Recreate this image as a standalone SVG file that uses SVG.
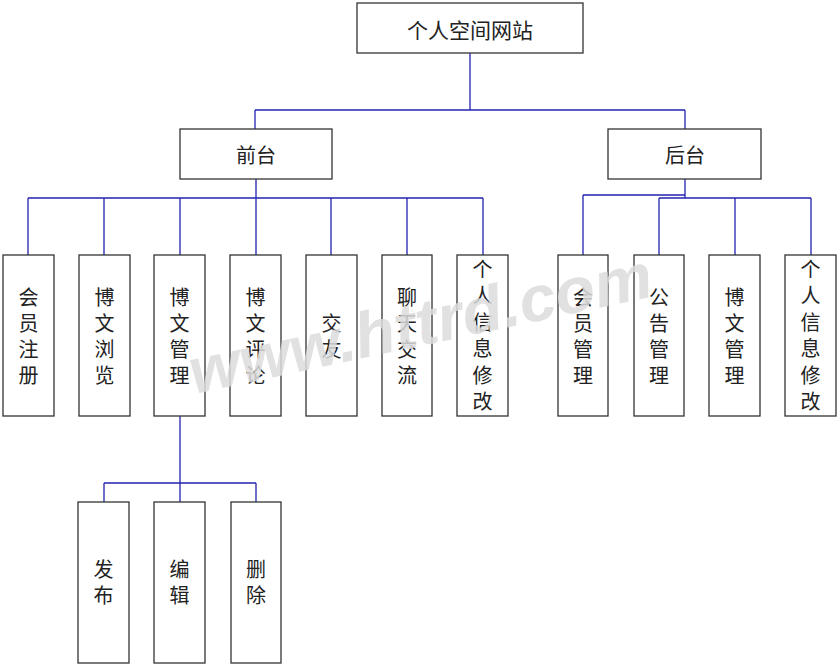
<svg xmlns="http://www.w3.org/2000/svg" width="840" height="668" viewBox="0 0 840 668">
<style>
.box{fill:#fff;stroke:#333;stroke-width:1.3}
.t{font-family:"Liberation Sans","Noto Sans CJK SC",sans-serif;font-size:20px;fill:#222;text-anchor:middle;dominant-baseline:central}
.c line{stroke:#2222b0;stroke-width:1.3}
.wm{font-family:"Liberation Sans",Arial,sans-serif;font-size:64px;font-weight:bold;font-style:italic;fill:#dcdcdc;opacity:0.85}
</style>
<rect width="840" height="668" fill="#fff"/>
<g class="c" id="connectors">
<line x1="470" y1="53" x2="470" y2="110"/>
<line x1="255" y1="110" x2="685" y2="110"/>
<line x1="255" y1="110" x2="255" y2="129"/>
<line x1="685" y1="110" x2="685" y2="129"/>
<line x1="256" y1="179" x2="256" y2="198"/>
<line x1="28" y1="198" x2="483" y2="198"/>
<line x1="28" y1="198" x2="28" y2="255"/>
<line x1="104" y1="198" x2="104" y2="255"/>
<line x1="180" y1="198" x2="180" y2="255"/>
<line x1="256" y1="198" x2="256" y2="255"/>
<line x1="331" y1="198" x2="331" y2="255"/>
<line x1="407" y1="198" x2="407" y2="255"/>
<line x1="483" y1="198" x2="483" y2="255"/>
<line x1="685" y1="179" x2="685" y2="198"/>
<line x1="583" y1="195" x2="685" y2="195"/>
<line x1="583" y1="195" x2="583" y2="255"/>
<line x1="659" y1="198" x2="811" y2="198"/>
<line x1="659" y1="198" x2="659" y2="255"/>
<line x1="735" y1="198" x2="735" y2="255"/>
<line x1="811" y1="198" x2="811" y2="255"/>
<line x1="180" y1="416" x2="180" y2="483"/>
<line x1="104" y1="483" x2="256" y2="483"/>
<line x1="104" y1="483" x2="104" y2="502"/>
<line x1="180" y1="483" x2="180" y2="502"/>
<line x1="256" y1="483" x2="256" y2="502"/>
</g>
<g id="root"><rect class="box" x="357" y="3" width="226" height="50"/><text class="t" x="470" y="30" style="font-size:21px">个人空间网站</text></g>
<g id="qiantai"><rect class="box" x="180" y="129" width="152" height="50"/><text class="t" x="256" y="156">前台</text></g>
<g id="houtai"><rect class="box" x="608" y="129" width="153" height="50"/><text class="t" x="685" y="156">后台</text></g>
<g id="n1"><rect class="box" x="3" y="255" width="51" height="161"/><text class="t"><tspan x="28.5" y="298">会</tspan><tspan x="28.5" y="324">员</tspan><tspan x="28.5" y="350">注</tspan><tspan x="28.5" y="376">册</tspan></text></g>
<g id="n2"><rect class="box" x="79" y="255" width="51" height="161"/><text class="t"><tspan x="104.5" y="298">博</tspan><tspan x="104.5" y="324">文</tspan><tspan x="104.5" y="350">浏</tspan><tspan x="104.5" y="376">览</tspan></text></g>
<g id="n3"><rect class="box" x="154" y="255" width="51" height="161"/><text class="t"><tspan x="179.5" y="298">博</tspan><tspan x="179.5" y="324">文</tspan><tspan x="179.5" y="350">管</tspan><tspan x="179.5" y="376">理</tspan></text></g>
<g id="n4"><rect class="box" x="230" y="255" width="51" height="161"/><text class="t"><tspan x="255.5" y="298">博</tspan><tspan x="255.5" y="324">文</tspan><tspan x="255.5" y="350">评</tspan><tspan x="255.5" y="376">论</tspan></text></g>
<g id="n5"><rect class="box" x="306" y="255" width="51" height="161"/><text class="t"><tspan x="331.5" y="324">交</tspan><tspan x="331.5" y="350">友</tspan></text></g>
<g id="n6"><rect class="box" x="382" y="255" width="50" height="161"/><text class="t"><tspan x="407" y="298">聊</tspan><tspan x="407" y="324">天</tspan><tspan x="407" y="350">交</tspan><tspan x="407" y="376">流</tspan></text></g>
<g id="n7"><rect class="box" x="457" y="255" width="51" height="161"/><text class="t"><tspan x="482.5" y="270">个</tspan><tspan x="482.5" y="296">人</tspan><tspan x="482.5" y="323">信</tspan><tspan x="482.5" y="349">息</tspan><tspan x="482.5" y="376">修</tspan><tspan x="482.5" y="402">改</tspan></text></g>
<g id="m1"><rect class="box" x="558" y="255" width="50" height="161"/><text class="t"><tspan x="583" y="298">会</tspan><tspan x="583" y="324">员</tspan><tspan x="583" y="350">管</tspan><tspan x="583" y="376">理</tspan></text></g>
<g id="m2"><rect class="box" x="634" y="255" width="50" height="161"/><text class="t"><tspan x="659" y="298">公</tspan><tspan x="659" y="324">告</tspan><tspan x="659" y="350">管</tspan><tspan x="659" y="376">理</tspan></text></g>
<g id="m3"><rect class="box" x="709" y="255" width="51" height="161"/><text class="t"><tspan x="734.5" y="298">博</tspan><tspan x="734.5" y="324">文</tspan><tspan x="734.5" y="350">管</tspan><tspan x="734.5" y="376">理</tspan></text></g>
<g id="m4"><rect class="box" x="785" y="255" width="51" height="161"/><text class="t"><tspan x="810.5" y="270">个</tspan><tspan x="810.5" y="296">人</tspan><tspan x="810.5" y="323">信</tspan><tspan x="810.5" y="349">息</tspan><tspan x="810.5" y="376">修</tspan><tspan x="810.5" y="402">改</tspan></text></g>
<g id="s1"><rect class="box" x="78" y="502" width="51" height="161"/><text class="t"><tspan x="103.5" y="570">发</tspan><tspan x="103.5" y="596">布</tspan></text></g>
<g id="s2"><rect class="box" x="154" y="502" width="51" height="161"/><text class="t"><tspan x="179.5" y="570">编</tspan><tspan x="179.5" y="596">辑</tspan></text></g>
<g id="s3"><rect class="box" x="231" y="502" width="50" height="161"/><text class="t"><tspan x="256" y="570">删</tspan><tspan x="256" y="596">除</tspan></text></g>
<text class="wm" transform="translate(194 394) rotate(-12)" textLength="472" lengthAdjust="spacingAndGlyphs">www.httrd.com</text>
</svg>
